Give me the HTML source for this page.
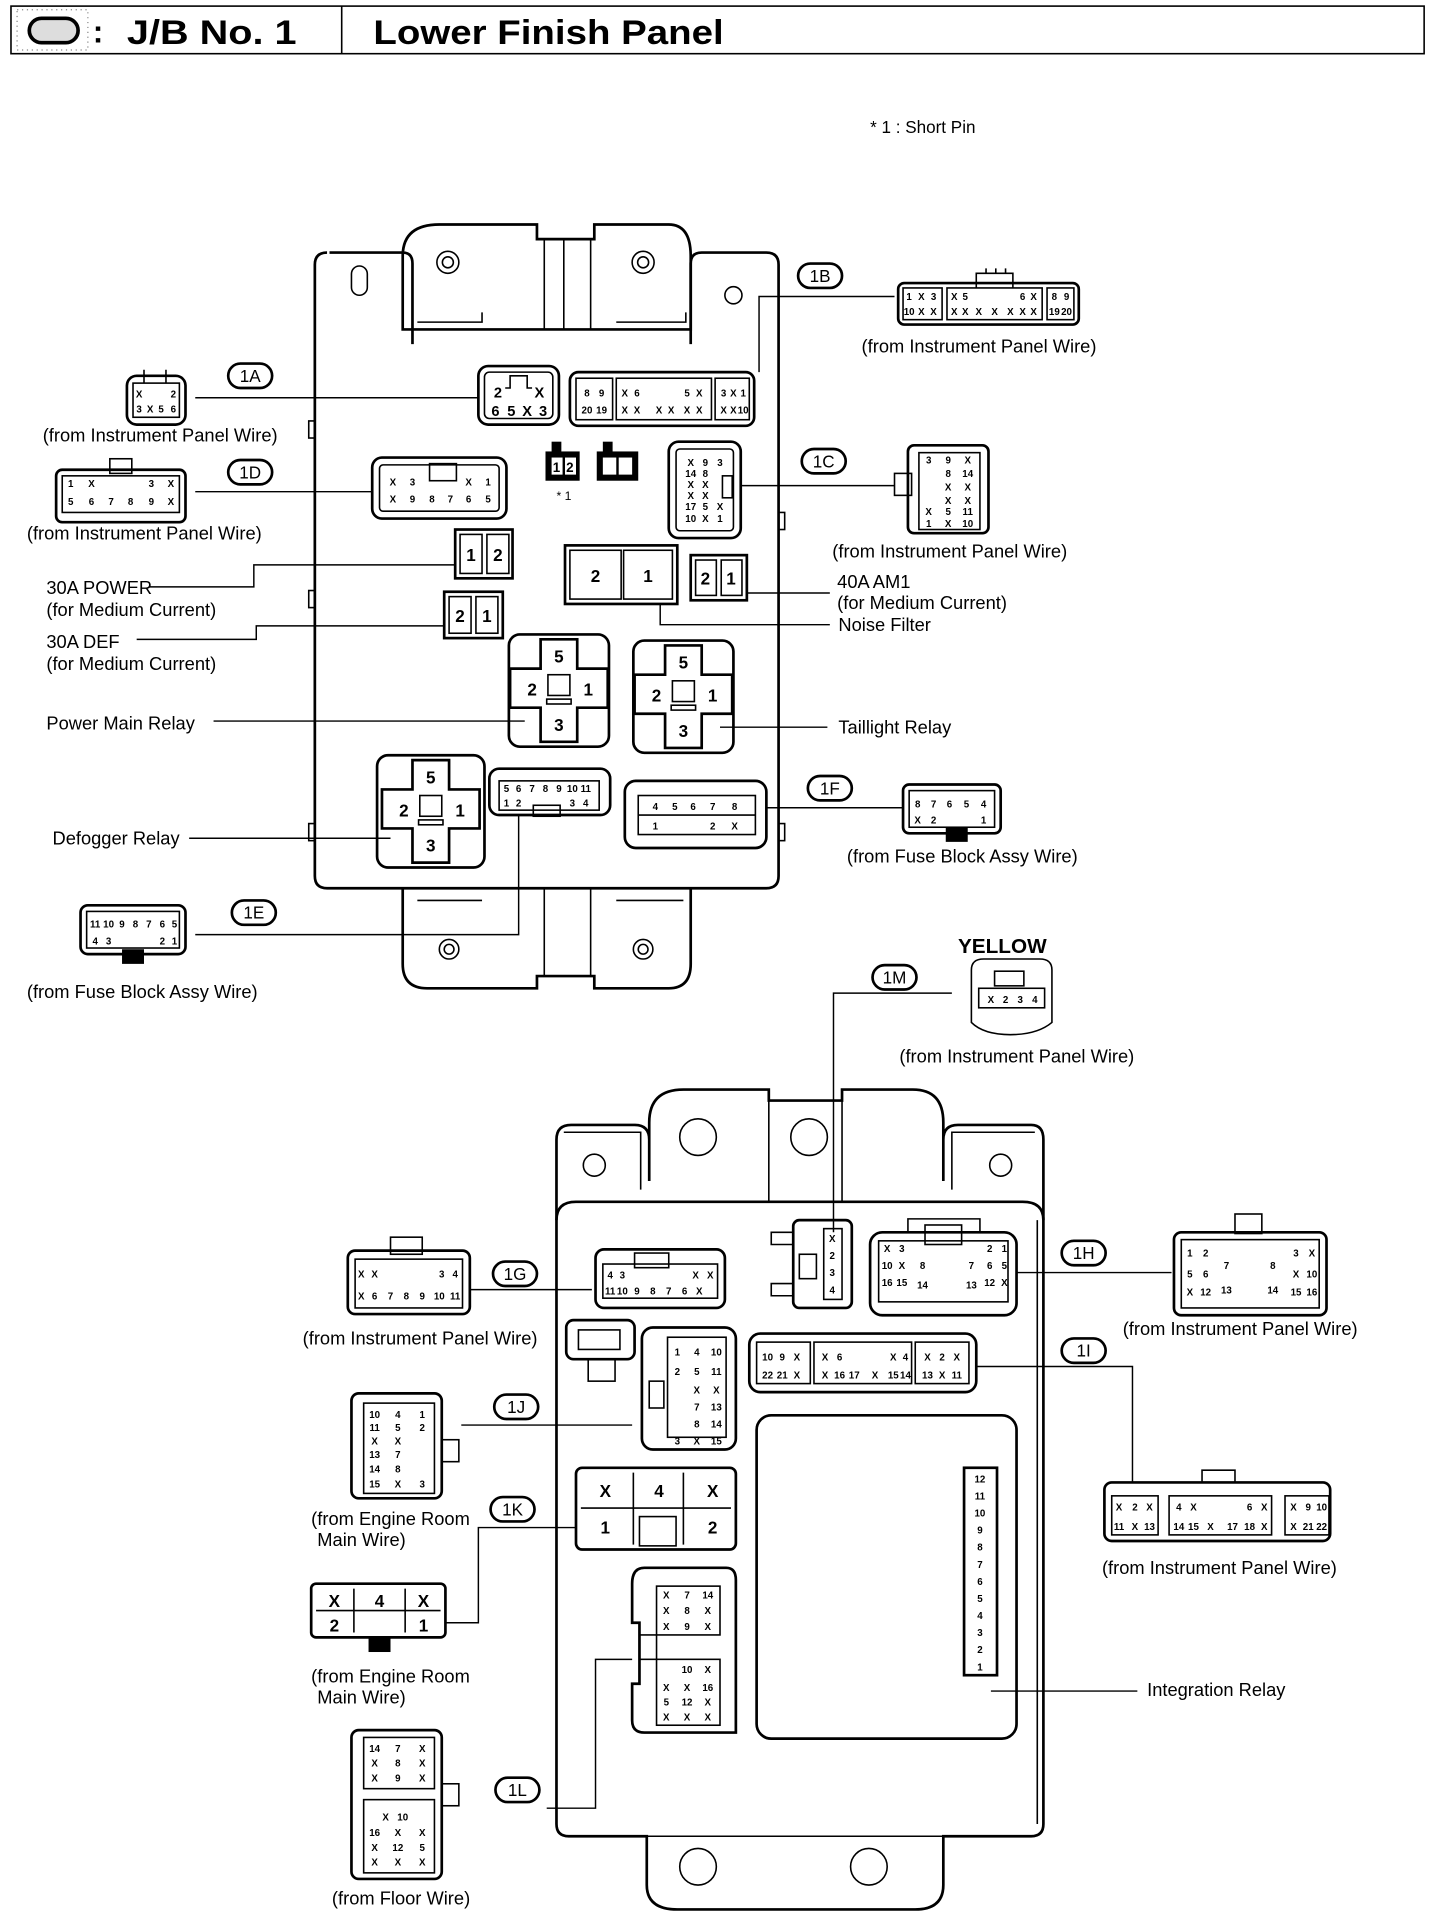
<!DOCTYPE html>
<html><head><meta charset="utf-8"><style>
html,body{margin:0;padding:0;background:#fff}
svg{display:block}
text{font-family:"Liberation Sans",sans-serif;fill:#000}
.o{fill:none;stroke:#000;stroke-width:2.2}
.t{fill:none;stroke:#000;stroke-width:1.3}
.l{fill:none;stroke:#000;stroke-width:1.2}
.p{font-size:8px;font-weight:bold;text-anchor:middle}
.q{font-size:14px;font-weight:bold;text-anchor:middle}
.lb{font-size:15px}
.cl{font-size:14px;text-anchor:middle}
</style></head><body>
<svg width="1440" height="1918" viewBox="0 0 1180 1572" preserveAspectRatio="none" xmlns="http://www.w3.org/2000/svg">
<rect width="1180" height="1572" fill="#fff"/>
<!-- header -->
<rect x="9" y="5" width="1158" height="39" fill="none" stroke="#000" stroke-width="1.3"/>
<line x1="280" y1="5" x2="280" y2="44" stroke="#000" stroke-width="1.3"/>
<rect x="14" y="8" width="58" height="33" fill="#fff" stroke="#888" stroke-dasharray="1 3"/>
<rect x="24" y="15" width="40" height="20" rx="10" fill="#ddd" stroke="#000" stroke-width="3"/>
<text x="76" y="35" style="font-size:26px;font-weight:bold">:</text>
<text x="104" y="36" textLength="139" lengthAdjust="spacingAndGlyphs" style="font-size:28px;font-weight:bold">J/B No. 1</text>
<text x="306" y="36" textLength="287" lengthAdjust="spacingAndGlyphs" style="font-size:28px;font-weight:bold">Lower Finish Panel</text>
<text x="713" y="109" style="font-size:14px">* 1 : Short Pin</text>

<!-- UPPER BOX -->
<path class="o" d="M270 207 H330 Q338 207 338 216 V282 H338 M566 282 V216 Q566 207 575 207 H628 Q638 207 638 217 V718 Q638 728 628 728 H268 Q258 728 258 718 V217 Q258 207 268 207"/>
<path class="o" d="M330 270 V210 Q330 184 360 184 H440 V196 H487 V184 H548 Q566 184 566 210 V270 Z"/>
<line class="t" x1="446" y1="196" x2="446" y2="270"/><line class="t" x1="484" y1="196" x2="484" y2="270"/>
<line class="t" x1="462" y1="196" x2="462" y2="270"/>
<path class="t" d="M342 264 H395 V256 M505 264 H562 V256"/>
<circle class="t" cx="367" cy="215" r="9"/><circle class="t" cx="367" cy="215" r="4.5"/>
<circle class="t" cx="527" cy="215" r="9"/><circle class="t" cx="527" cy="215" r="4.5"/>
<rect class="t" x="288" y="218" width="13" height="24" rx="6.5"/>
<circle class="t" cx="601" cy="242" r="7"/>
<!-- side clips -->
<rect class="t" x="253" y="345" width="5" height="14"/><rect class="t" x="253" y="484" width="5" height="14"/><rect class="t" x="253" y="675" width="5" height="14"/>
<rect class="t" x="638" y="420" width="5" height="14"/><rect class="t" x="638" y="675" width="5" height="14"/>
<!-- bottom tabs -->
<path class="o" d="M330 728 V790 Q330 810 350 810 H440 V800 H487 V810 H548 Q566 810 566 790 V728"/>
<line class="t" x1="446" y1="728" x2="446" y2="800"/><line class="t" x1="484" y1="728" x2="484" y2="800"/>
<path class="t" d="M342 738 H395 M505 738 H560"/>
<circle class="t" cx="368" cy="778" r="8"/><circle class="t" cx="368" cy="778" r="4"/>
<circle class="t" cx="527" cy="778" r="8"/><circle class="t" cx="527" cy="778" r="4"/>

<!-- 1A internal -->
<rect class="o" x="392" y="300" width="66" height="48" rx="8"/>
<rect class="t" x="397" y="305" width="56" height="38" rx="4"/>
<g class="q" style="font-size:12px"><text x="408" y="326">2</text><text x="442" y="326">X</text><text x="406" y="341">6</text><text x="419" y="341">5</text><text x="432" y="341">X</text><text x="445" y="341">3</text></g>
<path class="t" d="M414 318 H418 V308 H432 V318 H436"/>
<!-- 1B internal -->
<rect class="o" x="467" y="305" width="151" height="44" rx="7"/>
<rect class="t" x="472" y="310" width="30" height="34"/><rect class="t" x="505" y="310" width="78" height="34"/><rect class="t" x="586" y="310" width="28" height="34"/>
<g class="p"><text x="481" y="325">8</text><text x="493" y="325">9</text><text x="481" y="339">20</text><text x="493" y="339">19</text>
<text x="512" y="325">X</text><text x="522" y="325">6</text><text x="512" y="339">X</text><text x="522" y="339">X</text><text x="540" y="339">X</text><text x="550" y="339">X</text><text x="563" y="325">5</text><text x="573" y="325">X</text><text x="563" y="339">X</text><text x="573" y="339">X</text>
<text x="593" y="325">3</text><text x="601" y="325">X</text><text x="609" y="325">1</text><text x="593" y="339">X</text><text x="601" y="339">X</text><text x="609" y="339">10</text></g>
<!-- short pins -->
<rect x="447" y="370" width="28" height="24" fill="#000"/><rect x="452" y="362" width="8" height="10" fill="#000"/>
<rect x="452" y="375" width="9" height="14" fill="#fff"/><rect x="463" y="375" width="9" height="14" fill="#fff"/>
<text class="p" x="456" y="387" style="font-size:11px">1</text><text class="p" x="467" y="387" style="font-size:11px">2</text>
<text x="456" y="410" style="font-size:10px">* 1</text>
<rect x="489" y="370" width="34" height="24" fill="#000"/><rect x="494" y="362" width="8" height="10" fill="#000"/>
<rect x="494" y="375" width="11" height="14" fill="#fff"/><rect x="507" y="375" width="11" height="14" fill="#fff"/>
<!-- 1D internal -->
<rect class="o" x="305" y="375" width="110" height="50" rx="8"/>
<rect class="t" x="311" y="381" width="98" height="38" rx="3"/>
<g class="p"><text x="322" y="398">X</text><text x="338" y="398">3</text><text x="384" y="398">X</text><text x="400" y="398">1</text>
<text x="322" y="412">X</text><text x="338" y="412">9</text><text x="354" y="412">8</text><text x="369" y="412">7</text><text x="384" y="412">6</text><text x="400" y="412">5</text></g>
<rect class="t" x="352" y="380" width="22" height="14"/>
<!-- 1C internal -->
<rect class="o" x="548" y="362" width="59" height="79" rx="8"/>
<rect class="t" x="554" y="368" width="47" height="67" rx="3"/>
<g class="p"><text x="566" y="382">X</text><text x="578" y="382">9</text><text x="590" y="382">3</text>
<text x="566" y="391">14</text><text x="578" y="391">8</text><text x="566" y="400">X</text><text x="578" y="400">X</text><text x="566" y="409">X</text><text x="578" y="409">X</text><text x="566" y="418">17</text><text x="578" y="418">5</text><text x="590" y="418">X</text><text x="566" y="428">10</text><text x="578" y="428">X</text><text x="590" y="428">1</text></g>
<rect class="t" x="592" y="390" width="8" height="18"/>
<!-- fuses -->
<rect class="o" x="373" y="434" width="47" height="40"/><rect class="t" x="377" y="438" width="18" height="32"/><rect class="t" x="399" y="438" width="18" height="32"/>
<text class="q" x="386" y="460">1</text><text class="q" x="408" y="460">2</text>
<rect class="o" x="463" y="447" width="92" height="48"/><rect class="t" x="467" y="451" width="42" height="40"/><rect class="t" x="511" y="451" width="40" height="40"/>
<text class="q" x="488" y="477">2</text><text class="q" x="531" y="477">1</text>
<rect class="o" x="566" y="455" width="46" height="37"/><rect class="t" x="570" y="459" width="17" height="29"/><rect class="t" x="591" y="459" width="17" height="29"/>
<text class="q" x="578" y="479">2</text><text class="q" x="599" y="479">1</text>
<rect class="o" x="364" y="485" width="48" height="38"/><rect class="t" x="368" y="489" width="18" height="30"/><rect class="t" x="390" y="489" width="18" height="30"/>
<text class="q" x="377" y="510">2</text><text class="q" x="399" y="510">1</text>
<!-- relays -->
<g transform="translate(458,566)">
<rect class="o" x="-41" y="-46" width="82" height="92" rx="9"/>
<path class="o" d="M-15 -42 H15 V-18 H40 V14 H15 V42 H-15 V14 H-40 V-18 H-15 Z"/>
<rect class="t" x="-9" y="-13" width="18" height="17"/><rect class="t" x="-10" y="7" width="20" height="4"/>
<text class="q" x="0" y="-23">5</text><text class="q" x="-22" y="4">2</text><text class="q" x="24" y="4">1</text><text class="q" x="0" y="33">3</text>
</g>
<g transform="translate(560,571)">
<rect class="o" x="-41" y="-46" width="82" height="92" rx="9"/>
<path class="o" d="M-15 -42 H15 V-18 H40 V14 H15 V42 H-15 V14 H-40 V-18 H-15 Z"/>
<rect class="t" x="-9" y="-13" width="18" height="17"/><rect class="t" x="-10" y="7" width="20" height="4"/>
<text class="q" x="0" y="-23">5</text><text class="q" x="-22" y="4">2</text><text class="q" x="24" y="4">1</text><text class="q" x="0" y="33">3</text>
</g>
<g transform="translate(353,665)">
<rect class="o" x="-44" y="-46" width="88" height="92" rx="9"/>
<path class="o" d="M-15 -42 H15 V-18 H40 V14 H15 V42 H-15 V14 H-40 V-18 H-15 Z"/>
<rect class="t" x="-9" y="-13" width="18" height="17"/><rect class="t" x="-10" y="7" width="20" height="4"/>
<text class="q" x="0" y="-23">5</text><text class="q" x="-22" y="4">2</text><text class="q" x="24" y="4">1</text><text class="q" x="0" y="33">3</text>
</g>
<!-- 1E internal -->
<rect class="o" x="401" y="630" width="99" height="38" rx="8"/>
<g class="p"><text x="415" y="649">5</text><text x="425" y="649">6</text><text x="436" y="649">7</text><text x="447" y="649">8</text><text x="458" y="649">9</text><text x="469" y="649">10</text><text x="480" y="649">11</text>
<text x="415" y="661">1</text><text x="425" y="661">2</text><text x="469" y="661">3</text><text x="480" y="661">4</text></g>
<rect class="t" x="409" y="640" width="82" height="24"/><rect class="t" x="437" y="660" width="22" height="9"/>
<!-- 1F internal -->
<rect class="o" x="512" y="640" width="116" height="55" rx="9"/>
<rect class="t" x="523" y="652" width="96" height="32"/>
<g class="p"><text x="537" y="664">4</text><text x="553" y="664">5</text><text x="568" y="664">6</text><text x="584" y="664">7</text><text x="602" y="664">8</text><text x="537" y="680">1</text><text x="584" y="680">2</text><text x="602" y="680">X</text></g>
<line class="t" x1="523" y1="668" x2="619" y2="668"/>

<!-- upper external connectors -->
<rect class="o" x="104" y="308" width="48" height="40" rx="8"/>
<rect class="t" x="109" y="314" width="38" height="28"/>
<g class="p"><text x="114" y="326">X</text><text x="142" y="326">2</text><text x="114" y="338">3</text><text x="123" y="338">X</text><text x="132" y="338">5</text><text x="142" y="338">6</text></g>
<path class="t" d="M118 314 V303 M136 314 V303"/>
<text class="lb" x="35" y="362">(from Instrument Panel Wire)</text>
<rect class="o" x="187" y="298" width="36" height="20" rx="10"/><text class="cl" x="205" y="313">1A</text>
<line class="l" x1="160" y1="326" x2="392" y2="326"/>
<rect class="o" x="46" y="385" width="106" height="43" rx="5"/>
<rect class="t" x="90" y="376" width="18" height="12"/>
<g class="p"><text x="58" y="399">1</text><text x="75" y="399">X</text><text x="124" y="399">3</text><text x="140" y="399">X</text>
<text x="58" y="414">5</text><text x="75" y="414">6</text><text x="91" y="414">7</text><text x="107" y="414">8</text><text x="124" y="414">9</text><text x="140" y="414">X</text></g>
<rect class="t" x="51" y="390" width="96" height="30"/>
<text class="lb" x="22" y="442">(from Instrument Panel Wire)</text>
<rect class="o" x="187" y="377" width="36" height="20" rx="10"/><text class="cl" x="205" y="392">1D</text>
<line class="l" x1="160" y1="403" x2="305" y2="403"/>
<text class="lb" x="38" y="487">30A POWER</text><text class="lb" x="38" y="505">(for Medium Current)</text>
<path class="l" d="M122 481 H208 V463 H373"/>
<text class="lb" x="38" y="531">30A DEF</text><text class="lb" x="38" y="549">(for Medium Current)</text>
<path class="l" d="M112 524 H210 V513 H364"/>
<text class="lb" x="38" y="598">Power Main Relay</text><line class="l" x1="175" y1="591" x2="430" y2="591"/>
<text class="lb" x="43" y="692">Defogger Relay</text><line class="l" x1="155" y1="687" x2="320" y2="687"/>
<rect class="o" x="66" y="742" width="86" height="40" rx="6"/>
<rect class="t" x="71" y="747" width="76" height="30"/>
<g class="p"><text x="78" y="760">11</text><text x="89" y="760">10</text><text x="100" y="760">9</text><text x="111" y="760">8</text><text x="122" y="760">7</text><text x="133" y="760">6</text><text x="143" y="760">5</text>
<text x="78" y="774">4</text><text x="89" y="774">3</text><text x="133" y="774">2</text><text x="143" y="774">1</text></g>
<rect x="100" y="778" width="18" height="12" fill="#000"/>
<text class="lb" x="22" y="818">(from Fuse Block Assy Wire)</text>
<rect class="o" x="190" y="738" width="36" height="20" rx="10"/><text class="cl" x="208" y="753">1E</text>
<path class="l" d="M160 766 H425 V668"/>
<rect class="o" x="654" y="216" width="36" height="20" rx="10"/><text class="cl" x="672" y="231">1B</text>
<path class="l" d="M622 305 V243 H733"/>
<rect class="o" x="736" y="232" width="148" height="34" rx="5"/>
<rect class="t" x="740" y="236" width="32" height="26"/><rect class="t" x="776" y="236" width="78" height="26"/><rect class="t" x="858" y="236" width="22" height="26"/>
<path class="t" d="M800 236 V224 H830 V236 M808 224 V220 M816 224 V220 M824 224 V220"/>
<g class="p"><text x="745" y="246">1</text><text x="755" y="246">X</text><text x="765" y="246">3</text><text x="745" y="258">10</text><text x="755" y="258">X</text><text x="765" y="258">X</text>
<text x="782" y="246">X</text><text x="791" y="246">5</text><text x="838" y="246">6</text><text x="847" y="246">X</text>
<text x="782" y="258">X</text><text x="791" y="258">X</text><text x="802" y="258">X</text><text x="815" y="258">X</text><text x="828" y="258">X</text><text x="838" y="258">X</text><text x="847" y="258">X</text>
<text x="864" y="246">8</text><text x="874" y="246">9</text><text x="864" y="258">19</text><text x="874" y="258">20</text></g>
<text class="lb" x="706" y="289">(from Instrument Panel Wire)</text>
<rect class="o" x="657" y="368" width="36" height="20" rx="10"/><text class="cl" x="675" y="383">1C</text>
<line class="l" x1="607" y1="398" x2="733" y2="398"/>
<rect class="o" x="744" y="365" width="66" height="72" rx="5"/>
<rect class="t" x="733" y="388" width="14" height="18"/>
<g class="p"><text x="761" y="380">3</text><text x="777" y="380">9</text><text x="793" y="380">X</text><text x="777" y="391">8</text><text x="793" y="391">14</text><text x="777" y="402">X</text><text x="793" y="402">X</text><text x="777" y="413">X</text><text x="793" y="413">X</text><text x="761" y="422">X</text><text x="777" y="422">5</text><text x="793" y="422">11</text><text x="761" y="432">1</text><text x="777" y="432">X</text><text x="793" y="432">10</text></g>
<rect class="t" x="753" y="371" width="50" height="63"/>
<text class="lb" x="682" y="457">(from Instrument Panel Wire)</text>
<text class="lb" x="686" y="482">40A AM1</text><text class="lb" x="686" y="499">(for Medium Current)</text>
<line class="l" x1="612" y1="486" x2="680" y2="486"/>
<text class="lb" x="687" y="517">Noise Filter</text><path class="l" d="M541 495 V512 H680"/>
<text class="lb" x="687" y="601">Taillight Relay</text><line class="l" x1="590" y1="596" x2="678" y2="596"/>
<rect class="o" x="662" y="636" width="36" height="20" rx="10"/><text class="cl" x="680" y="651">1F</text>
<line class="l" x1="628" y1="662" x2="740" y2="662"/>
<rect class="o" x="740" y="643" width="80" height="40" rx="5"/><rect class="t" x="745" y="648" width="70" height="30"/>
<g class="p"><text x="752" y="662">8</text><text x="765" y="662">7</text><text x="778" y="662">6</text><text x="792" y="662">5</text><text x="806" y="662">4</text><text x="752" y="675">X</text><text x="765" y="675">2</text><text x="806" y="675">1</text></g>
<rect x="775" y="678" width="18" height="12" fill="#000"/>
<text class="lb" x="694" y="707">(from Fuse Block Assy Wire)</text>

<!-- LOWER BOX -->
<path class="o" d="M468 922 H520 Q532 922 532 934 V968 M532 968 V920 Q532 893 560 893 H630 V902 H690 V893 H748 Q773 893 773 920 V968 M773 968 V934 Q773 922 785 922 H845 Q855 922 855 934 V1495 Q855 1505 845 1505 H773 V1545 Q773 1565 750 1565 H555 Q530 1565 530 1545 V1505 H466 Q456 1505 456 1495 V934 Q456 922 468 922"/>
<path class="t" d="M462 928 H525 V975 M780 975 V928 H848"/>
<line class="t" x1="630" y1="902" x2="630" y2="985"/><line class="t" x1="690" y1="902" x2="690" y2="985"/>
<path class="o" d="M456 1000 Q456 985 472 985 H838 Q855 985 855 1000"/>
<circle class="t" cx="487" cy="955" r="9"/><circle class="t" cx="572" cy="932" r="15"/><circle class="t" cx="663" cy="932" r="15"/><circle class="t" cx="820" cy="955" r="9"/>
<circle class="t" cx="572" cy="1530" r="15"/><circle class="t" cx="712" cy="1530" r="15"/>
<line class="t" x1="530" y1="1505" x2="773" y2="1505"/>
<line class="t" x1="850" y1="1000" x2="850" y2="1495"/>
<rect class="o" x="650" y="1000" width="48" height="72" rx="5"/>
<path class="t" d="M632 1010 H650 V1020 H632 Z M632 1052 H650 V1062 H632 Z"/>
<rect class="t" x="675" y="1007" width="15" height="58"/>
<g class="p"><text x="682" y="1018">X</text><text x="682" y="1032">2</text><text x="682" y="1046">3</text><text x="682" y="1060">4</text></g>
<rect class="t" x="655" y="1028" width="14" height="20"/>
<rect class="o" x="713" y="1010" width="120" height="68" rx="10"/>
<path class="t" d="M744 1010 V999 H803 V1010"/><rect class="t" x="758" y="1004" width="30" height="16"/>
<g class="p"><text x="727" y="1026">X</text><text x="739" y="1026">3</text><text x="727" y="1040">10</text><text x="739" y="1040">X</text><text x="727" y="1054">16</text><text x="739" y="1054">15</text><text x="756" y="1040">8</text><text x="756" y="1056">14</text>
<text x="796" y="1040">7</text><text x="796" y="1056">13</text><text x="811" y="1026">2</text><text x="823" y="1026">1</text><text x="811" y="1040">6</text><text x="823" y="1040">5</text><text x="811" y="1054">12</text><text x="823" y="1054">X</text></g>
<rect class="t" x="720" y="1017" width="106" height="50"/>
<rect class="o" x="488" y="1024" width="106" height="48" rx="7"/>
<rect class="t" x="494" y="1036" width="94" height="28"/><rect class="t" x="520" y="1027" width="28" height="12"/>
<g class="p"><text x="500" y="1048">4</text><text x="510" y="1048">3</text><text x="570" y="1048">X</text><text x="582" y="1048">X</text>
<text x="500" y="1061">11</text><text x="510" y="1061">10</text><text x="522" y="1061">9</text><text x="535" y="1061">8</text><text x="548" y="1061">7</text><text x="561" y="1061">6</text><text x="573" y="1061">X</text></g>
<rect class="o" x="464" y="1082" width="56" height="32" rx="6"/><rect class="t" x="474" y="1090" width="34" height="16"/>
<rect class="t" x="482" y="1114" width="22" height="18"/>
<rect class="o" x="526" y="1088" width="77" height="100" rx="9"/>
<rect class="t" x="547" y="1096" width="48" height="82"/>
<g class="p"><text x="555" y="1111">1</text><text x="571" y="1111">4</text><text x="587" y="1111">10</text><text x="555" y="1127">2</text><text x="571" y="1127">5</text><text x="587" y="1127">11</text><text x="571" y="1142">X</text><text x="587" y="1142">X</text><text x="571" y="1156">7</text><text x="587" y="1156">13</text><text x="571" y="1170">8</text><text x="587" y="1170">14</text><text x="555" y="1184">3</text><text x="571" y="1184">X</text><text x="587" y="1184">15</text></g>
<rect class="t" x="532" y="1132" width="12" height="22"/>
<rect class="o" x="614" y="1093" width="186" height="48" rx="9"/>
<rect class="t" x="620" y="1100" width="44" height="34"/><rect class="t" x="667" y="1100" width="80" height="34"/><rect class="t" x="750" y="1100" width="44" height="34"/>
<g class="p"><text x="629" y="1115">10</text><text x="641" y="1115">9</text><text x="653" y="1115">X</text><text x="629" y="1130">22</text><text x="641" y="1130">21</text><text x="653" y="1130">X</text>
<text x="676" y="1115">X</text><text x="688" y="1115">6</text><text x="732" y="1115">X</text><text x="742" y="1115">4</text><text x="676" y="1130">X</text><text x="688" y="1130">16</text><text x="700" y="1130">17</text><text x="717" y="1130">X</text><text x="732" y="1130">15</text><text x="742" y="1130">14</text>
<text x="760" y="1115">X</text><text x="772" y="1115">2</text><text x="784" y="1115">X</text><text x="760" y="1130">13</text><text x="772" y="1130">X</text><text x="784" y="1130">11</text></g>
<rect class="o" x="620" y="1160" width="213" height="265" rx="12"/>
<rect class="o" x="790" y="1203" width="27" height="170"/>
<g class="p"><text x="803" y="1215">12</text><text x="803" y="1229">11</text><text x="803" y="1243">10</text><text x="803" y="1257">9</text><text x="803" y="1271">8</text><text x="803" y="1285">7</text><text x="803" y="1299">6</text><text x="803" y="1313">5</text><text x="803" y="1327">4</text><text x="803" y="1341">3</text><text x="803" y="1355">2</text><text x="803" y="1369">1</text></g>
<rect class="o" x="472" y="1203" width="131" height="67" rx="5"/>
<path class="t" d="M476 1236 H599 M519 1207 V1266 M560 1207 V1266"/>
<rect class="t" x="524" y="1243" width="30" height="24"/>
<text class="q" x="496" y="1227">X</text><text class="q" x="540" y="1227">4</text><text class="q" x="584" y="1227">X</text><text class="q" x="496" y="1257">1</text><text class="q" x="584" y="1257">2</text>
<path class="o" d="M528 1285 H595 Q603 1285 603 1295 V1420 H528 Q518 1420 518 1410 V1380 H524 V1330 H518 V1298 Q518 1285 528 1285"/>
<g class="p"><text x="546" y="1310">X</text><text x="563" y="1310">7</text><text x="580" y="1310">14</text><text x="546" y="1323">X</text><text x="563" y="1323">8</text><text x="580" y="1323">X</text><text x="546" y="1336">X</text><text x="563" y="1336">9</text><text x="580" y="1336">X</text>
<text x="563" y="1371">10</text><text x="580" y="1371">X</text><text x="546" y="1386">X</text><text x="563" y="1386">X</text><text x="580" y="1386">16</text><text x="546" y="1398">5</text><text x="563" y="1398">12</text><text x="580" y="1398">X</text><text x="546" y="1410">X</text><text x="563" y="1410">X</text><text x="580" y="1410">X</text></g>
<rect class="t" x="538" y="1300" width="52" height="40"/><rect class="t" x="538" y="1360" width="52" height="54"/>
<rect class="t" x="524" y="1340" width="14" height="20"/>

<!-- lower external -->
<text x="785" y="781" style="font-size:17px;font-weight:bold">YELLOW</text>
<path class="t" d="M796 795 Q796 786 806 786 H852 Q862 786 862 795 V838 Q850 848 828 848 Q806 848 796 838 Z"/>
<rect class="t" x="802" y="810" width="54" height="16"/><rect class="t" x="815" y="796" width="24" height="12"/>
<g class="p"><text x="812" y="822">X</text><text x="824" y="822">2</text><text x="836" y="822">3</text><text x="848" y="822">4</text></g>
<rect class="o" x="715" y="791" width="36" height="20" rx="10"/><text class="cl" x="733" y="806">1M</text>
<path class="l" d="M780 814 H683 V1010"/>
<text class="lb" x="737" y="871">(from Instrument Panel Wire)</text>
<rect class="o" x="285" y="1025" width="100" height="52" rx="6"/><rect class="t" x="320" y="1014" width="26" height="14"/>
<rect class="t" x="291" y="1032" width="88" height="40"/>
<g class="p"><text x="296" y="1047">X</text><text x="307" y="1047">X</text><text x="362" y="1047">3</text><text x="373" y="1047">4</text>
<text x="296" y="1065">X</text><text x="307" y="1065">6</text><text x="320" y="1065">7</text><text x="333" y="1065">8</text><text x="346" y="1065">9</text><text x="360" y="1065">10</text><text x="373" y="1065">11</text></g>
<text class="lb" x="248" y="1102">(from Instrument Panel Wire)</text>
<rect class="o" x="404" y="1034" width="36" height="20" rx="10"/><text class="cl" x="422" y="1049">1G</text>
<line class="l" x1="385" y1="1057" x2="485" y2="1057"/>
<rect class="o" x="962" y="1010" width="125" height="68" rx="6"/><rect class="t" x="1012" y="995" width="22" height="16"/>
<rect class="t" x="968" y="1016" width="113" height="56"/>
<g class="p"><text x="975" y="1030">1</text><text x="988" y="1030">2</text><text x="975" y="1047">5</text><text x="988" y="1047">6</text><text x="975" y="1062">X</text><text x="988" y="1062">12</text><text x="1005" y="1040">7</text><text x="1005" y="1060">13</text>
<text x="1043" y="1040">8</text><text x="1043" y="1060">14</text><text x="1062" y="1030">3</text><text x="1075" y="1030">X</text><text x="1062" y="1047">X</text><text x="1075" y="1047">10</text><text x="1062" y="1062">15</text><text x="1075" y="1062">16</text></g>
<text class="lb" x="920" y="1094">(from Instrument Panel Wire)</text>
<rect class="o" x="870" y="1017" width="36" height="20" rx="10"/><text class="cl" x="888" y="1032">1H</text>
<line class="l" x1="833" y1="1043" x2="960" y2="1043"/>
<rect class="o" x="870" y="1097" width="36" height="20" rx="10"/><text class="cl" x="888" y="1112">1I</text>
<path class="l" d="M800 1120 H928 V1215"/>
<rect class="o" x="905" y="1215" width="185" height="48" rx="6"/><path class="t" d="M985 1215 V1205 H1012 V1215"/>
<g class="p"><text x="917" y="1238">X</text><text x="930" y="1238">2</text><text x="942" y="1238">X</text><text x="917" y="1254">11</text><text x="930" y="1254">X</text><text x="942" y="1254">13</text>
<text x="966" y="1238">4</text><text x="978" y="1238">X</text><text x="966" y="1254">14</text><text x="978" y="1254">15</text><text x="992" y="1254">X</text><text x="1010" y="1254">17</text><text x="1024" y="1254">18</text><text x="1036" y="1254">X</text><text x="1024" y="1238">6</text><text x="1036" y="1238">X</text>
<text x="1060" y="1238">X</text><text x="1072" y="1238">9</text><text x="1083" y="1238">10</text><text x="1060" y="1254">X</text><text x="1072" y="1254">21</text><text x="1083" y="1254">22</text></g>
<rect class="t" x="911" y="1226" width="38" height="32"/><rect class="t" x="958" y="1226" width="84" height="32"/><rect class="t" x="1053" y="1226" width="36" height="32"/>
<text class="lb" x="903" y="1290">(from Instrument Panel Wire)</text>
<rect class="o" x="288" y="1142" width="74" height="86" rx="6"/><rect class="t" x="362" y="1180" width="14" height="18"/>
<rect class="t" x="298" y="1150" width="58" height="74"/>
<g class="p"><text x="307" y="1162">10</text><text x="326" y="1162">4</text><text x="346" y="1162">1</text><text x="307" y="1173">11</text><text x="326" y="1173">5</text><text x="346" y="1173">2</text><text x="307" y="1184">X</text><text x="326" y="1184">X</text><text x="307" y="1195">13</text><text x="326" y="1195">7</text><text x="307" y="1207">14</text><text x="326" y="1207">8</text><text x="307" y="1219">15</text><text x="326" y="1219">X</text><text x="346" y="1219">3</text></g>
<text class="lb" x="255" y="1250">(from Engine Room</text><text class="lb" x="260" y="1267">Main Wire)</text>
<rect class="o" x="405" y="1143" width="36" height="20" rx="10"/><text class="cl" x="423" y="1158">1J</text>
<line class="l" x1="378" y1="1168" x2="518" y2="1168"/>
<rect class="o" x="255" y="1298" width="110" height="44" rx="4"/>
<path class="t" d="M259 1320 H361 M290 1302 V1338 M332 1302 V1338"/>
<text class="q" x="274" y="1317">X</text><text class="q" x="311" y="1317">4</text><text class="q" x="347" y="1317">X</text><text class="q" x="274" y="1337">2</text><text class="q" x="347" y="1337">1</text>
<rect x="302" y="1342" width="18" height="12" fill="#000"/>
<text class="lb" x="255" y="1379">(from Engine Room</text><text class="lb" x="260" y="1396">Main Wire)</text>
<rect class="o" x="402" y="1227" width="36" height="20" rx="10"/><text class="cl" x="420" y="1242">1K</text>
<path class="l" d="M365 1330 H392 V1252 H472"/>
<rect class="o" x="288" y="1418" width="74" height="122" rx="6"/><rect class="t" x="362" y="1462" width="14" height="18"/>
<rect class="t" x="298" y="1424" width="58" height="42"/><rect class="t" x="298" y="1475" width="58" height="60"/>
<g class="p"><text x="307" y="1436">14</text><text x="326" y="1436">7</text><text x="346" y="1436">X</text><text x="307" y="1448">X</text><text x="326" y="1448">8</text><text x="346" y="1448">X</text><text x="307" y="1460">X</text><text x="326" y="1460">9</text><text x="346" y="1460">X</text>
<text x="316" y="1492">X</text><text x="330" y="1492">10</text><text x="307" y="1505">16</text><text x="326" y="1505">X</text><text x="346" y="1505">X</text><text x="307" y="1517">X</text><text x="326" y="1517">12</text><text x="346" y="1517">5</text><text x="307" y="1529">X</text><text x="326" y="1529">X</text><text x="346" y="1529">X</text></g>
<text class="lb" x="272" y="1561">(from Floor Wire)</text>
<rect class="o" x="406" y="1457" width="36" height="20" rx="10"/><text class="cl" x="424" y="1472">1L</text>
<path class="l" d="M448 1482 H488 V1360 H518"/>
<text class="lb" x="940" y="1390">Integration Relay</text>
<line class="l" x1="812" y1="1386" x2="932" y2="1386"/>
</svg>
</body></html>
